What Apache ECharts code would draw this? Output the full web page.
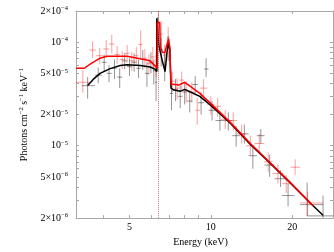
<!DOCTYPE html>
<html><head><meta charset="utf-8">
<script src="https://cdn.jsdelivr.net/npm/echarts@6/dist/echarts.min.js"></script>
<style>html,body{margin:0;padding:0;background:#fff}#c{width:334px;height:252px}</style>
</head><body><div id="c"></div>
<script>
// Axis ticks / labels
const xMin = 3.17, xMax = 28.3;
const yMin = 2e-6, yMax = 2e-4;
const xLabelValues = [5, 10, 20];
const xTickValues = [4, 5, 6, 7, 8, 9, 10, 20];
const yLabelValues = [2e-6, 5e-6, 1e-5, 2e-5, 5e-5, 1e-4, 2e-4];
const yLabelTexts = ['{m|2×10}{s|−6}', '{m|5×10}{s|−6}', '{m|10}{s|−5}', '{m|2×10}{s|−5}', '{m|5×10}{s|−5}', '{m|10}{s|−4}', '{m|2×10}{s|−4}'];
const yTickValues = [2e-6,3e-6,4e-6,5e-6,6e-6,7e-6,8e-6,9e-6,1e-5,2e-5,3e-5,4e-5,5e-5,6e-5,7e-5,8e-5,9e-5,1e-4,2e-4];
const xTitle = 'Energy (keV)';
const yTitle = '{m|Photons cm}{s|−2}{m| s}{s|−1}{m| keV}{s|−1}';
const lineEnergy = 6.37;

// Model curves [E, photons]
const blackModel = [[3.50,3.82e-5],[3.67,4.37e-5],[3.89,5.0e-5],[4.24,5.55e-5],[4.62,5.96e-5],[4.90,6.04e-5],[5.48,5.96e-5],[5.96,5.75e-5],[6.23,5.46e-5],[6.30,5.2e-5],[6.31,1.7e-4],[6.40,1.7e-4],[6.41,9.5e-5],[6.50,9.5e-5],[6.62,6.5e-5],[6.77,5.2e-5],[6.88,8e-5],[6.95,9.7e-5],[7.05,8.5e-5],[7.12,3.6e-5],[7.3,3.45e-5],[7.7,3.35e-5],[8.0,3.5e-5],[8.4,3.3e-5],[9.1,3.0e-5],[10,2.45e-5],[11.8,1.65e-5],[14,1.03e-5],[16.6,6.75e-6],[19.7,4.35e-6],[23.3,2.8e-6],[26,2.13e-6]];
const redModel = [[3.17,5.6e-5],[3.40,5.6e-5],[3.6,6.2e-5],[3.89,7.0e-5],[4.12,7.3e-5],[4.9,7.3e-5],[5.48,6.9e-5],[5.96,6.6e-5],[6.33,5.6e-5],[6.34,1.55e-4],[6.47,1.55e-4],[6.50,9e-5],[6.62,8e-5],[6.75,7.9e-5],[6.88,9.5e-5],[6.97,1.08e-4],[7.05,9e-5],[7.12,3.95e-5],[7.6,3.85e-5],[8.0,4.1e-5],[8.4,3.75e-5],[9.1,3.2e-5],[10,2.55e-5],[11.8,1.68e-5],[14,1.05e-5],[16.6,6.8e-6],[19.7,4.4e-6],[23.9,2.63e-6]];

// Data crosses [E, Elo, Ehi, v, vlo, vhi]
const blackData = [
 [3.5,3.33,3.73,3.8e-5,2.85e-5,4.6e-5],[3.83,3.73,3.95,4.8e-5,4.0e-5,5.7e-5],[4.03,3.95,4.12,6.4e-5,5.2e-5,7.6e-5],
 [4.2,4.12,4.3,5.0e-5,4.1e-5,6.0e-5],[4.4,4.3,4.5,5.6e-5,4.4e-5,6.8e-5],[4.6,4.5,4.7,4.6e-5,3.6e-5,5.6e-5],
 [4.8,4.7,4.9,6.6e-5,5.5e-5,7.8e-5],[5.0,4.9,5.1,5.8e-5,4.7e-5,7.0e-5],[5.2,5.1,5.3,6.4e-5,5.2e-5,7.8e-5],
 [5.4,5.3,5.5,5.6e-5,4.5e-5,6.8e-5],[5.6,5.5,5.7,6.8e-5,5.4e-5,8.4e-5],[5.8,5.7,5.9,5.0e-5,3.7e-5,6.5e-5],
 [6.0,5.9,6.1,6.4e-5,5.0e-5,8.0e-5],[6.15,6.1,6.22,5.3e-5,3.9e-5,6.8e-5],[6.27,6.22,6.32,4.1e-5,2.7e-5,5.6e-5],
 [6.36,6.30,6.42,1.2e-4,5.2e-5,1.75e-4],[6.55,6.47,6.63,8.5e-5,5.8e-5,1.1e-4],[6.75,6.65,6.85,6.0e-5,4.2e-5,7.8e-5],
 [6.95,6.88,7.03,9.0e-5,6.6e-5,1.15e-4],[7.15,7.05,7.25,3.2e-5,2.2e-5,4.2e-5],[7.4,7.25,7.55,3.5e-5,2.7e-5,4.4e-5],
 [7.7,7.55,7.85,3.0e-5,2.3e-5,3.8e-5],[8.0,7.85,8.15,3.3e-5,2.5e-5,4.1e-5],[8.35,8.15,8.55,2.7e-5,2.1e-5,3.4e-5],
 [8.75,8.55,8.95,3.9e-5,3.2e-5,4.7e-5],[9.2,8.95,9.45,2.6e-5,2.0e-5,3.3e-5],[9.6,9.45,9.8,5.5e-5,4.6e-5,7.0e-5],
 [10.1,9.8,10.4,2.2e-5,1.75e-5,2.7e-5],[10.8,10.4,11.2,1.75e-5,1.4e-5,2.15e-5],[11.6,11.2,12.0,1.75e-5,1.4e-5,2.1e-5],
 [12.4,12.0,12.8,1.25e-5,9.8e-6,1.55e-5],[13.3,12.8,13.8,1.3e-5,1.05e-5,1.6e-5],[14.3,13.8,14.8,8.0e-6,6.0e-6,1.0e-5],
 [15.3,14.8,15.8,1.25e-5,1.05e-5,1.45e-5],[16.5,15.8,17.2,6.5e-6,5.0e-6,8.2e-6],[18.1,17.2,19.2,4.8e-6,4.0e-6,5.8e-6],
 [19.3,18.3,20.4,3.3e-6,2.6e-6,4.3e-6],[22.7,21.4,26.0,2.7e-6,2.1e-6,4.4e-6],[26.0,22.7,28.3,2.1e-6,1.5e-6,3.3e-6]
];
const redData = [
 [3.36,3.17,3.55,4.1e-5,3.25e-5,5.4e-5],[3.65,3.55,3.76,8.4e-5,7.0e-5,1.02e-4],[3.88,3.76,4.0,7.4e-5,6.1e-5,8.8e-5],
 [4.1,4.0,4.2,8.6e-5,7.0e-5,1.05e-4],[4.3,4.2,4.4,9.6e-5,7.8e-5,1.18e-4],[4.5,4.4,4.6,7.6e-5,6.2e-5,9.2e-5],
 [4.7,4.6,4.8,6.8e-5,5.5e-5,8.2e-5],[4.9,4.8,5.0,7.8e-5,6.3e-5,9.4e-5],[5.1,5.0,5.2,6.6e-5,5.3e-5,8.0e-5],
 [5.3,5.2,5.4,7.4e-5,6.0e-5,9.0e-5],[5.5,5.4,5.6,9.5e-5,7.0e-5,1.3e-4],[5.7,5.6,5.8,7.0e-5,5.6e-5,8.6e-5],
 [5.9,5.8,6.0,6.2e-5,4.8e-5,7.6e-5],[6.1,6.0,6.2,7.2e-5,5.6e-5,9.0e-5],[6.27,6.2,6.33,6.0e-5,4.6e-5,7.6e-5],
 [6.40,6.35,6.45,1.4e-4,9.5e-5,2.0e-4],[6.55,6.47,6.63,1.2e-4,8.5e-5,1.6e-4],[6.75,6.65,6.85,7.5e-5,5.5e-5,9.5e-5],
 [6.95,6.88,7.03,1.1e-4,8.5e-5,1.4e-4],[7.2,7.05,7.35,4.2e-5,3.3e-5,5.2e-5],[7.5,7.35,7.65,3.6e-5,2.8e-5,4.5e-5],
 [7.8,7.65,7.95,4.3e-5,3.4e-5,5.2e-5],[8.1,7.95,8.25,3.4e-5,2.6e-5,4.2e-5],[8.5,8.25,8.75,3.3e-5,2.6e-5,4.1e-5],
 [8.9,8.75,9.1,2.2e-5,1.6e-5,2.9e-5],[9.4,9.1,9.7,3.6e-5,2.9e-5,4.4e-5],[10.0,9.7,10.3,2.5e-5,2.0e-5,3.0e-5],
 [10.6,10.3,10.9,2.4e-5,1.9e-5,2.9e-5],[11.3,10.9,11.7,1.8e-5,1.45e-5,2.2e-5],[12.1,11.7,12.5,1.75e-5,1.4e-5,2.1e-5],
 [13.0,12.5,13.5,1.3e-5,1.05e-5,1.6e-5],[14.0,13.5,14.5,1.0e-5,8e-6,1.25e-5],[15.1,14.5,15.7,1.05e-5,8.5e-6,1.3e-5],
 [16.3,15.7,16.9,7.0e-6,5.6e-6,8.6e-6],[17.7,16.9,18.5,5.4e-6,4.3e-6,6.6e-6],[19.0,18.3,19.7,4.3e-6,3.5e-6,5.2e-6],
 [20.5,19.7,21.4,6.2e-6,5.2e-6,7.4e-6],[22.8,21.4,26.0,2.8e-6,2.1e-6,3.6e-6]
];

const FONT = '"Liberation Serif", "DejaVu Serif", serif';
const AX = '#a8a8a8';
const rich = {
  m: {fontFamily: FONT, fontSize: 10, color: '#000', lineHeight: 12},
  s: {fontFamily: FONT, fontSize: 6.5, color: '#000', verticalAlign: 'top', lineHeight: 12}
};

function crossRenderer(color) {
  return function (params, api) {
    const cs = params.coordSys;
    const clampX = x => Math.max(cs.x, Math.min(cs.x + cs.width, x));
    const clampY = y => Math.max(cs.y, Math.min(cs.y + cs.height, y));
    const a = api.coord([api.value(1), api.value(3)]);
    const b = api.coord([api.value(2), api.value(3)]);
    const c = api.coord([api.value(0), api.value(4)]);
    const d = api.coord([api.value(0), api.value(5)]);
    return {type: 'group', children: [
      {type: 'line', shape: {x1: clampX(a[0]), y1: a[1], x2: clampX(b[0]), y2: b[1]}, style: {stroke: color, lineWidth: 1}},
      {type: 'line', shape: {x1: c[0], y1: clampY(c[1]), x2: d[0], y2: clampY(d[1])}, style: {stroke: color, lineWidth: 1}}
    ]};
  };
}

function yFmt(v) {
  for (let i = 0; i < yLabelValues.length; i++) {
    if (Math.abs(v - yLabelValues[i]) / yLabelValues[i] < 1e-6) return yLabelTexts[i];
  }
  return '';
}

const baseX = {
  type: 'log', min: xMin, max: xMax, logBase: 10,
  axisLine: {show: true, lineStyle: {color: AX, width: 1}},
  splitLine: {show: false}, minorTick: {show: false},
  axisTick: {show: true, inside: true, length: 3, lineStyle: {color: AX}, customValues: xTickValues}
};
const baseY = {
  type: 'log', min: yMin, max: yMax, logBase: 10,
  axisLine: {show: true, lineStyle: {color: AX, width: 1}},
  splitLine: {show: false}, minorTick: {show: false},
  axisTick: {show: true, inside: true, length: 3, lineStyle: {color: AX}, customValues: yTickValues}
};

const chart = echarts.init(document.getElementById('c'), null, {renderer: 'canvas'});
chart.setOption({
  animation: false,
  backgroundColor: '#fff',
  grid: {left: 76, right: 1, top: 11, bottom: 23, containLabel: false},
  xAxis: [
    Object.assign({}, baseX, {
      position: 'bottom',
      name: xTitle, nameLocation: 'middle', nameGap: 17,
      nameTextStyle: {fontFamily: FONT, fontSize: 10, color: '#000', padding: [0, 8, 0, 0]},
      axisLabel: {show: true, customValues: xLabelValues, fontFamily: FONT, fontSize: 10, color: '#000', margin: 4,
        formatter: v => String(Math.round(v))}
    }),
    Object.assign({}, baseX, {position: 'top', axisLabel: {show: false}})
  ],
  yAxis: [
    Object.assign({}, baseY, {
      position: 'left',
      name: yTitle, nameLocation: 'middle', nameGap: 46, nameRotate: 90,
      nameTextStyle: {rich: rich},
      axisLabel: {show: true, customValues: yLabelValues, margin: 8, formatter: yFmt, rich: rich}
    }),
    Object.assign({}, baseY, {position: 'right', axisLabel: {show: false}})
  ],
  series: [
    {type: 'custom', name: 'black data', renderItem: crossRenderer('rgba(0,0,0,0.42)'), data: blackData,
      encode: {x: [0, 1, 2], y: [3, 4, 5]}, z: 2, silent: true},
    {type: 'custom', name: 'red data', renderItem: crossRenderer('rgba(255,0,0,0.38)'), data: redData,
      encode: {x: [0, 1, 2], y: [3, 4, 5]}, z: 3, silent: true},
    {type: 'line', name: 'black model', data: blackModel, showSymbol: false, symbol: 'none',
      lineStyle: {color: '#000', width: 1.5}, z: 4, silent: true,
      markLine: {silent: true, symbol: 'none', label: {show: false},
        lineStyle: {color: 'rgba(120,120,120,0.6)', type: [1, 1], width: 1}, data: [{xAxis: lineEnergy}]}},
    {type: 'line', name: 'red model', data: redModel, showSymbol: false, symbol: 'none',
      lineStyle: {color: '#ff0000', width: 1.5}, z: 5, silent: true,
      markLine: {silent: true, symbol: 'none', label: {show: false},
        lineStyle: {color: 'rgba(230,80,80,0.45)', type: [1, 1], width: 1}, data: [{xAxis: lineEnergy + 0.03}]}}
  ]
});
</script>
</body></html>
